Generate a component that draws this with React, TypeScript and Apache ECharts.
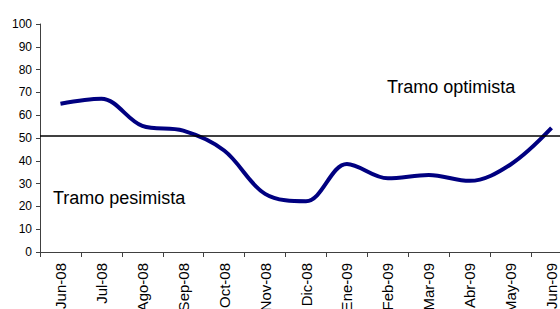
import React, { useEffect, useRef } from "react";
import * as echarts from "echarts";

const categories = ["Jun-08", "Jul-08", "Ago-08", "Sep-08", "Oct-08", "Nov-08", "Dic-08", "Ene-09", "Feb-09", "Mar-09", "Abr-09", "May-09", "Jun-09"];
const values = [65, 67.2, 55.3, 53.2, 44.5, 25.5, 22.3, 38.6, 32.3, 33.8, 31.2, 38.4, 54.4];
const threshold = 51;
const yTicks = { min: 0, max: 100, interval: 10 };

const FONT = "Liberation Sans, Arial, sans-serif";

export default function App() {
  const ref = useRef<HTMLDivElement>(null);
  useEffect(() => {
    if (!ref.current) return;
    const chart = echarts.init(ref.current, undefined, { renderer: "svg" });
    chart.setOption({
      animation: false,
      backgroundColor: "#ffffff",
      textStyle: { fontFamily: FONT },
      grid: { left: 40, top: 24, width: 532, height: 228, containLabel: false, outerBoundsMode: "none" },
      xAxis: {
        type: "category",
        data: categories,
        boundaryGap: true,
        axisLine: { lineStyle: { color: "#404040", width: 1 } },
        axisTick: { show: true, length: 5, lineStyle: { color: "#404040" } },
        axisLabel: { rotate: 90, color: "#000", fontSize: 15, margin: 11, fontFamily: FONT },
        splitLine: { show: false },
      },
      yAxis: {
        type: "value",
        min: yTicks.min,
        max: yTicks.max,
        interval: yTicks.interval,
        axisLine: { show: true, lineStyle: { color: "#404040", width: 1 } },
        axisTick: { show: true, length: 4, lineStyle: { color: "#404040" } },
        axisLabel: { color: "#000", fontSize: 12, margin: 8, fontFamily: FONT },
        splitLine: { show: false },
      },
      series: [
        {
          type: "line",
          data: values,
          smooth: 0.35,
          symbol: "none",
          lineStyle: { color: "#000080", width: 4 },
          markLine: {
            silent: true,
            symbol: ["none", "none"],
            label: { show: false },
            lineStyle: { color: "#000", width: 1.5, type: "solid" },
            data: [{ yAxis: threshold }],
          },
        },
      ],
      graphic: [
        {
          type: "text",
          left: 387,
          top: 78,
          style: { text: "Tramo optimista", fontSize: 18, fill: "#000", fontFamily: FONT },
        },
        {
          type: "text",
          left: 53,
          top: 189,
          style: { text: "Tramo pesimista", fontSize: 18, fill: "#000", fontFamily: FONT },
        },
      ],
    });
    return () => chart.dispose();
  }, []);
  return (
    <div style={{ position: "fixed", left: 0, top: 0, width: 560, height: 309, overflow: "hidden", background: "#fff" }}>
      <div ref={ref} style={{ width: 600, height: 309 }} />
    </div>
  );
}
